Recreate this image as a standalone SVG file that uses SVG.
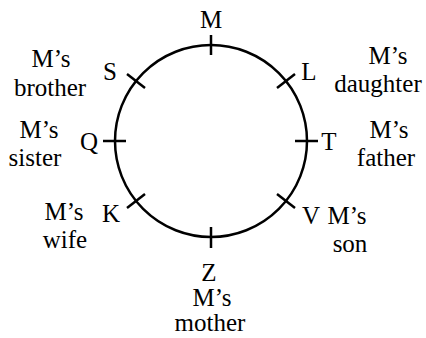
<svg xmlns="http://www.w3.org/2000/svg" width="426" height="338" viewBox="0 0 426 338">
<style>
text{font-family:"Liberation Serif","Times New Roman",serif;font-size:25px;fill:#000;text-anchor:middle}
.l{stroke:#000;stroke-width:2.5;fill:none}
</style>
<rect width="426" height="338" fill="#fff"/>
<g id="connectors">
<circle class="l" cx="211" cy="141" r="96"/>
<line class="l" x1="211" y1="35" x2="211" y2="55"/>
<line class="l" x1="211" y1="227" x2="211" y2="248"/>
<line class="l" x1="103" y1="141" x2="126" y2="141"/>
<line class="l" x1="295" y1="141" x2="318" y2="141"/>
<line class="l" x1="127" y1="74" x2="145" y2="88"/>
<line class="l" x1="277" y1="88" x2="295" y2="74"/>
<line class="l" x1="127" y1="208" x2="145" y2="194"/>
<line class="l" x1="277" y1="194" x2="295" y2="208"/>
</g>
<g id="M"><text x="211" y="28">M</text></g>
<g id="S"><text x="110" y="80">S</text><text x="51" y="67">M’s</text><text x="50" y="96">brother</text></g>
<g id="L"><text x="309" y="80">L</text><text x="388" y="64">M’s</text><text x="378" y="92">daughter</text></g>
<g id="Q"><text x="89" y="150">Q</text><text x="39" y="138">M’s</text><text x="35" y="166">sister</text></g>
<g id="T"><text x="329" y="150">T</text><text x="389" y="138">M’s</text><text x="386" y="166">father</text></g>
<g id="K"><text x="111" y="222">K</text><text x="64" y="220">M’s</text><text x="65" y="248">wife</text></g>
<g id="V"><text x="311" y="224">V</text><text x="347" y="224">M’s</text><text x="350" y="252">son</text></g>
<g id="Z"><text x="209" y="281">Z</text><text x="212" y="306">M’s</text><text x="210" y="331">mother</text></g>
</svg>
